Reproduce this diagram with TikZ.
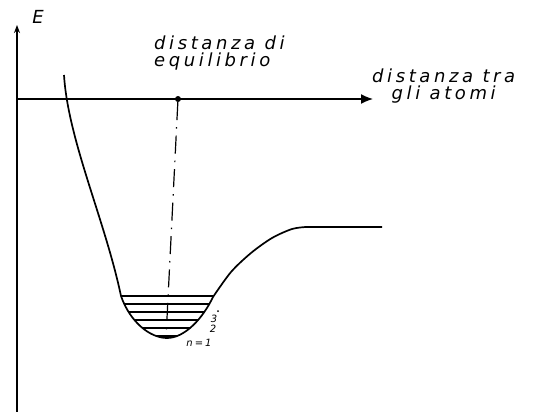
\documentclass[tikz,border=0pt]{standalone}
\usepackage{fontspec}
\newfontfamily\hand[LetterSpace=20]{DejaVu Sans}
\usetikzlibrary{arrows.meta,positioning}
\tikzset{
  >=Latex,
  every node/.style={font=\hand\itshape,text=black},
  axis/.style={line width=1.4pt,draw=black},
  curve/.style={line width=1.7pt,draw=black,line join=round},
  level/.style={line width=1.4pt,draw=black},
  centre/.style={line width=1.2pt,draw=black,dash pattern=on 18pt off 7pt on 1.5pt off 7pt},
  dot/.style={circle,fill=black,inner sep=0pt,minimum size=6pt},
  big/.style={font=\hand\itshape\fontsize{18}{17}\selectfont,align=left,inner sep=0pt},
  small/.style={font=\hand\itshape\fontsize{10}{10}\selectfont,inner sep=0pt},
}
\begin{document}
\begin{tikzpicture}[x=1pt,y=-1pt]
  \useasboundingbox (0,0) rectangle (538,412);
  % axes
  \coordinate (Ebot) at (17,412);
  \coordinate (Etop) at (17,25);
  \coordinate (xstart) at (17,99);
  \coordinate (xend) at (373,99);
  \draw[axis,-{Stealth[length=8pt,width=6pt]}] (Ebot) -- (Etop);
  \draw[axis,-{Latex[length=12pt,width=10pt]}] (xstart) -- (xend);
  \node[big] (Elab) at (38,17) {E};
  \node[big,align=center,anchor=west] (rlab) at (372,86) {distanza tra\\gli atomi};
  \node[big,anchor=north west] (eqlab) at (154,36) {distanza di\\equilibrio};

  % potential curve
  \draw[curve] (64,75) .. controls (68,140) and (105,220) .. (121,296)
    .. controls (130,322) and (150,338) .. (167,338)
    .. controls (185,338) and (203,318) .. (213,297)
    plot[smooth,tension=0.5] coordinates {(213,297) (231,272) (251,253) (272,238) (292,229) (306,227)}
    -- (382,227);

  % vibrational levels
  \begin{scope}
    \clip (121,296) .. controls (130,322) and (150,338) .. (167,338)
      .. controls (185,338) and (203,318) .. (213,297) -- (215,292) -- (119,292) -- cycle;
    \foreach \y in {296,304,312,320,328,336}
      \draw[level] (100,\y) -- (240,\y);
  \end{scope}

  % equilibrium distance
  \node[dot] (eq) at (178,99) {};
  \coordinate (eqbot) at (166,338);
  \draw[centre] (eq) -- (eqbot);

  \node[small] (n3) at (214,319) {3};
  \node[small] (n2) at (213,329) {2};
  \node[small] (n1) at (199,343) {n=1};
  \node[circle,fill=black,inner sep=0pt,minimum size=2pt] (ndot) at (218,311) {};
\end{tikzpicture}
\end{document}
